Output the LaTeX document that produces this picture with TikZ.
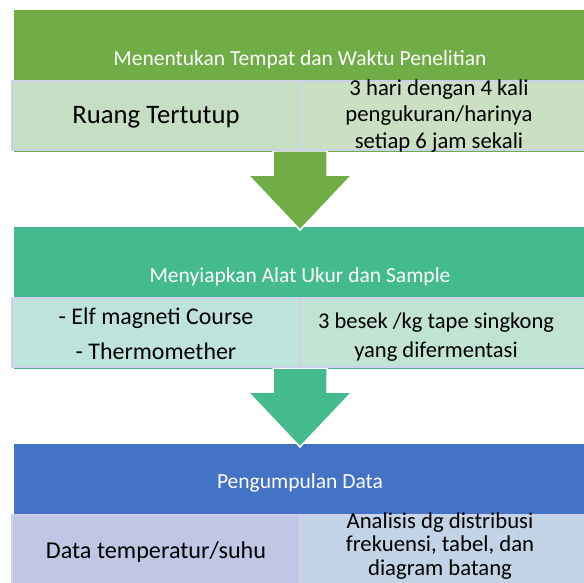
\documentclass[tikz,border=0pt]{standalone}
\usepackage{fontspec}
\setmainfont{Carlito}
\usepackage{tikz}
\usetikzlibrary{positioning, calc}

\definecolor{hdrgreen}{HTML}{70AD47}
\definecolor{hdrteal}{HTML}{44BB8E}
\definecolor{hdrblue}{HTML}{4472C4}
\definecolor{subgreenL}{HTML}{C6DFC4}
\definecolor{subgreenR}{HTML}{CBDFC3}
\definecolor{subtealL}{HTML}{BDE3DB}
\definecolor{subtealR}{HTML}{C1E3D3}
\definecolor{subblueL}{HTML}{BFC7E4}
\definecolor{subblueR}{HTML}{C1D3E4}
\definecolor{subline}{HTML}{CDD2EA}

\tikzset{
  hdrtext/.style={text=white, inner sep=0pt, font=\fontsize{21.6}{25}\selectfont},
  subbox/.style={draw=subline, line width=2bp},
  subtext/.style={text=black, inner sep=0pt, align=center, font=\fontsize{24.3}{28}\selectfont},
  bigarrow/.style={draw=white, line width=1.5bp, line join=miter}
}

\begin{document}
\begin{tikzpicture}[x=1bp, y=-1bp]

\useasboundingbox (0,0) rectangle (584,583);

%//header bands first, arrows go on top of them
\def\ytop{10}
\fill[hdrgreen] (14,\ytop) rectangle (586,\ytop+142);
\node[hdrtext] (h1) at (300,\ytop+50) {Menentukan Tempat dan Waktu Penelitian};

\def\ytop{227}
\fill[hdrteal] (14,\ytop) rectangle (586,\ytop+142);
\node[hdrtext] (h2) at (300,\ytop+50) {Menyiapkan Alat Ukur dan Sample};

\def\ytop{444}
\fill[hdrblue] (14,\ytop) rectangle (586,\ytop+142);
\node[hdrtext] (h3) at (300,\ytop+39) {Pengumpulan Data};

%//arrows
\def\ytop{10}
\filldraw[bigarrow, fill=hdrgreen] (273,\ytop+141) -- (327,\ytop+141) -- (327,\ytop+165) -- (352,\ytop+165)
  -- (300,\ytop+220) -- (248,\ytop+165) -- (273,\ytop+165) -- cycle;

\def\ytop{227}
\filldraw[bigarrow, fill=hdrteal] (273,\ytop+141) -- (327,\ytop+141) -- (327,\ytop+165) -- (352,\ytop+165)
  -- (300,\ytop+220) -- (248,\ytop+165) -- (273,\ytop+165) -- cycle;

%//sub boxes
\def\ytop{10}
\filldraw[subbox, fill=subgreenL] (12,\ytop+71) rectangle (300,\ytop+140);
\filldraw[subbox, fill=subgreenR] (300,\ytop+71) rectangle (590,\ytop+140);
\node[subtext, font=\fontsize{26.8}{31}\selectfont] (s1l) at (156,\ytop+107) {Ruang Tertutup};
\node[subtext, font=\fontsize{22.8}{26.5}\selectfont] (s1r) at (439,\ytop+106) {3 hari dengan 4 kali\\pengukuran/harinya\\setiap 6 jam sekali};

\def\ytop{227}
\filldraw[subbox, fill=subtealL] (12,\ytop+71) rectangle (300,\ytop+140);
\filldraw[subbox, fill=subtealR] (300,\ytop+71) rectangle (590,\ytop+140);
\node[subtext, font=\fontsize{24}{35}\selectfont] (s2l) at (156,\ytop+107) {- Elf magneti Course\\- Thermomether};
\node[subtext, font=\fontsize{22.6}{29}\selectfont] (s2r) at (436,\ytop+110) {3 besek /kg tape singkong\\yang difermentasi};

\def\ytop{444}
\filldraw[subbox, fill=subblueL] (12,\ytop+71) rectangle (300,\ytop+142);
\filldraw[subbox, fill=subblueR] (300,\ytop+71) rectangle (590,\ytop+142);
\node[subtext] (s3l) at (156,\ytop+108) {Data temperatur/suhu};
\node[subtext, font=\fontsize{22.8}{24}\selectfont] (s3r) at (440,\ytop+102) {Analisis dg distribusi\\frekuensi, tabel, dan\\diagram batang};

\end{tikzpicture}
\end{document}
